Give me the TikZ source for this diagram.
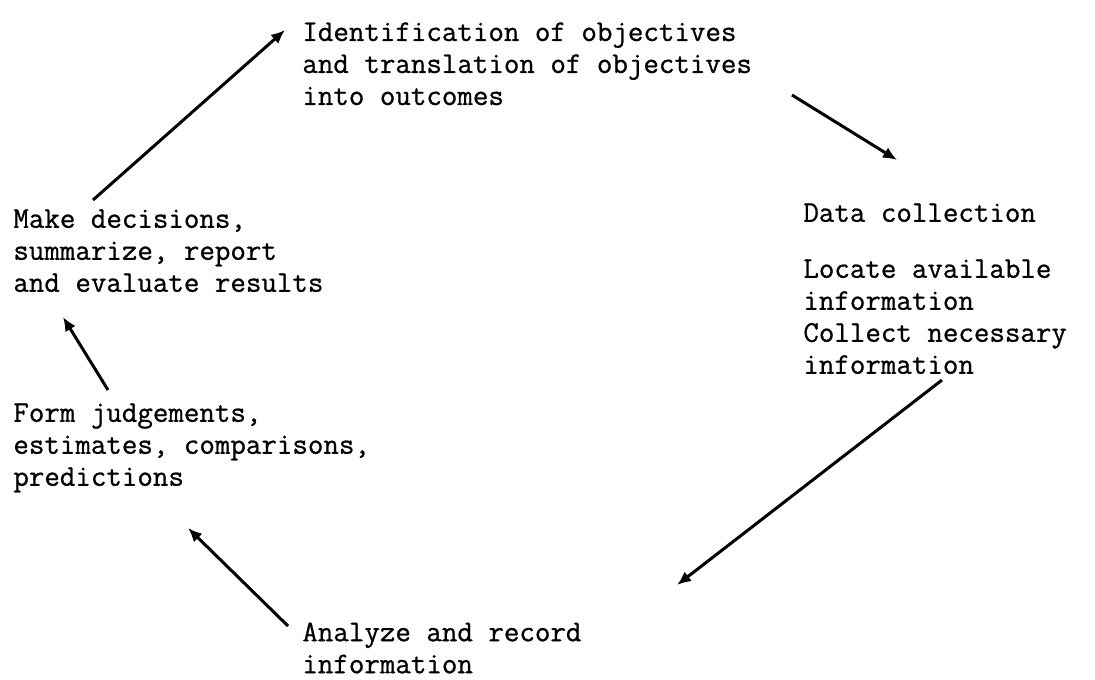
\documentclass[tikz,border=0pt]{standalone}
\usepackage{fontspec}
\newfontfamily\typewriter{Latin Modern Mono}[FakeBold=0.8]
\usetikzlibrary{arrows.meta}
\begin{document}
\begin{tikzpicture}[x=0.5pt, y=-0.5pt,
	txt/.style={anchor=north west, align=left, inner sep=0pt, font=\typewriter\fontsize{15.05}{16}\selectfont},
	arr/.style={-{Latex[length=7pt,width=6pt]}, line width=1.5pt}]
	\useasboundingbox (0, 0) rectangle (1095, 679);
	% the stages
	\node[txt] (ident) at (302, 22) {Identification of objectives\\and translation of objectives\\into outcomes};
	\node[txt] (data) at (803, 203) {Data collection};
	\node[txt] (locate) at (803, 259) {Locate available\\information\\Collect necessary\\information};
	\node[txt] (analyze) at (302, 622) {Analyze and record\\information};
	\node[txt] (form) at (13, 403) {Form judgements,\\estimates, comparisons,\\predictions};
	\node[txt] (make) at (13, 209) {Make decisions,\\summarize, report\\and evaluate results};
	% the cycle
	\draw[arr] ([shift={(80, -9)}]make.north west)--([shift={(-17, 8)}]ident.north west);
	\draw[arr] ([shift={(490, 73)}]ident.north west)--([shift={(94, -43)}]data.north west);
	\draw[arr] ([shift={(139, 121)}]locate.north west)--([shift={(375, -37)}]analyze.north west);
	\draw[arr] ([shift={(-14, 4)}]analyze.north west)--([shift={(175, 125)}]form.north west);
	\draw[arr] ([shift={(95, -13)}]form.north west)--([shift={(50, 108)}]make.north west);
\end{tikzpicture}
\end{document}
